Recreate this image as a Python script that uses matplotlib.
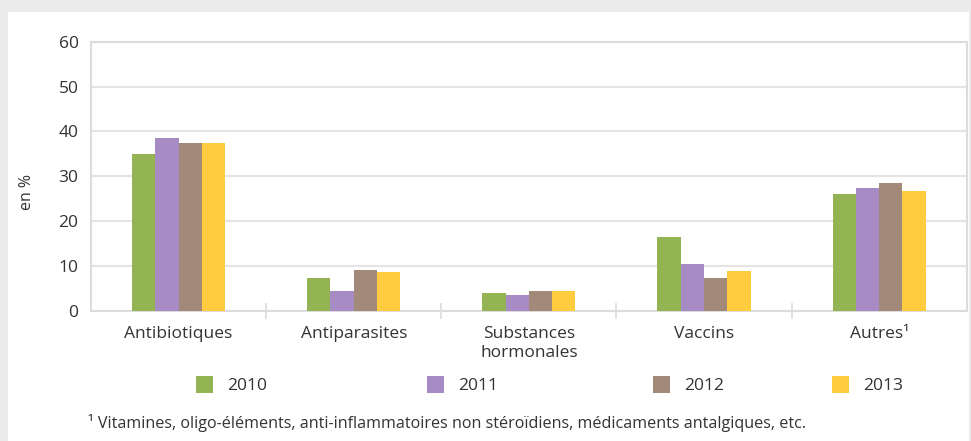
import matplotlib
matplotlib.use("Agg")
import matplotlib.pyplot as plt
import numpy as np
from matplotlib.patches import Rectangle, Patch

plt.rcParams['font.family'] = ['Open Sans', 'DejaVu Sans']

CATEGORIES = ["Antibiotiques", "Antiparasites", "Substances\nhormonales",
              "Vaccins", "Autres\u00b9"]
YEARS = ["2010", "2011", "2012", "2013"]
V2010 = [35.0, 7.4, 3.9, 16.4, 26.1]
V2011 = [38.6, 4.3, 3.6, 10.5, 27.4]
V2012 = [37.5, 9.0, 4.4, 7.4, 28.4]
V2013 = [37.3, 8.7, 4.4, 8.9, 26.6]
Y_TICKS = [0, 10, 20, 30, 40, 50, 60]
FOOTNOTE = ("\u00b9 Vitamines, oligo-\u00e9l\u00e9ments, anti-inflammatoires non "
            "st\u00e9ro\u00efdiens, m\u00e9dicaments antalgiques, etc.")

COLORS = ["#94b454", "#a78bc4", "#a2897a", "#ffcc40"]
TEXT = "#333333"
GRID = "#e4e4e4"


def main() -> None:
    fig = plt.figure(figsize=(9.71, 4.41), dpi=100, facecolor="#ebebeb")
    # white panel inside the grey frame
    fig.add_artist(Rectangle((8 / 971, 0), 961 / 971, 1 - 12 / 441,
                             transform=fig.transFigure, facecolor="white",
                             edgecolor="none", zorder=0))

    ax = fig.add_axes([91 / 971, 1 - 310.7 / 441, 875.7 / 971, 269 / 441])
    ax.set_facecolor("white")

    series = [V2010, V2011, V2012, V2013]
    x = np.arange(len(CATEGORIES))
    width = 0.133
    for i, (vals, color) in enumerate(zip(series, COLORS)):
        ax.bar(x + (i - 1.5) * width, vals, width, color=color, zorder=3)

    ax.set_xlim(-0.5, len(CATEGORIES) - 0.5)
    ax.set_ylim(0, 60)
    ax.set_yticks(Y_TICKS)
    ax.yaxis.grid(True, color=GRID, linewidth=1.5, zorder=0)
    ax.set_axisbelow(True)
    ax.tick_params(axis="y", length=0, pad=9, labelsize=12.5, labelcolor=TEXT)

    ax.set_xticks(x)
    ax.set_xticklabels(CATEGORIES, fontsize=12.5, color=TEXT, linespacing=1.25)
    ax.tick_params(axis="x", which="major", length=0, pad=11)
    ax.set_xticks(x[:-1] + 0.5, minor=True)
    ax.tick_params(axis="x", which="minor", direction="inout", length=11,
                   width=1.2, color="#dcdcdc")

    for spine in ax.spines.values():
        spine.set_color("#dcdcdc")
        spine.set_linewidth(1.5)

    ax.set_ylabel("en %", fontsize=11.5, color=TEXT)
    ax.yaxis.set_label_coords(-0.064, 0.44)

    # legend, one entry per year
    legend_x = [196, 427, 653, 832]
    for year, color, lx in zip(YEARS, COLORS, legend_x):
        leg = fig.legend(handles=[Patch(facecolor=color, edgecolor="none")],
                         labels=[year], loc="center left",
                         bbox_to_anchor=(lx / 971, 1 - 385 / 441),
                         frameon=False, fontsize=12.5, handlelength=1.0,
                         handleheight=1.15, handletextpad=0.8,
                         borderaxespad=0, borderpad=0)
        for t in leg.get_texts():
            t.set_color(TEXT)

    fig.text(88 / 971, 1 - 423 / 441, FOOTNOTE, fontsize=11.6, color=TEXT,
             va="center", ha="left")

    fig.savefig("out.png", dpi=100, facecolor=fig.get_facecolor())


if __name__ == "__main__":
    main()
